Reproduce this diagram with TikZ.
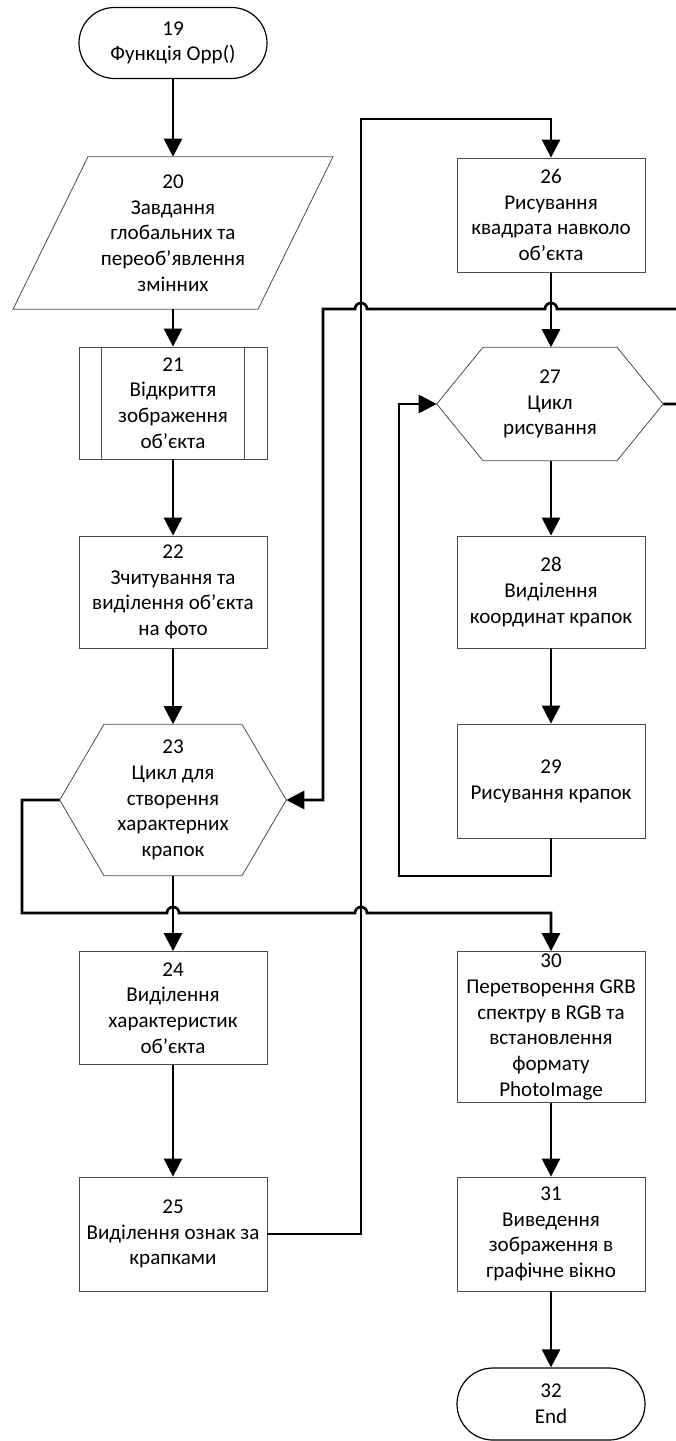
\documentclass[tikz,border=0pt]{standalone}
\usepackage{fontspec}
\setmainfont{Carlito}
\usetikzlibrary{arrows.meta,shapes.misc,calc}
\begin{document}
\begin{tikzpicture}[x=0.75pt,y=-0.75pt,
  every node/.style={font=\fontsize{15.8}{19.3}\selectfont, align=center, inner sep=0pt},
  box/.style={draw=black!70, line width=0.6pt, rectangle, minimum width=141pt, minimum height=84pt},
  term/.style={draw=black, line width=0.9pt, rounded rectangle, minimum width=141pt, minimum height=53.25pt},
  hexframe/.style={minimum width=169.5pt, minimum height=113.25pt},
  shapeline/.style={draw=black!70, line width=0.6pt},
  conn/.style={line width=2pt, -{Triangle[length=13.5pt,width=13.5pt]}},
]
\useasboundingbox (0,0) rectangle (675,1441);

% left column
\node[term] (n19) at (173,43) {19\\Функція Opp()};

\node[minimum height=114pt, minimum width=150pt] (n20) at (173,233)
  {20\\Завдання\\глобальних та\\переоб’явлення\\змінних};
\draw[shapeline] ($(n20.north)+(-85,0)$) -- ($(n20.north)+(160,0)$)
  -- ($(n20.south)+(85,0)$) -- ($(n20.south)+(-160,0)$) -- cycle;

\node[box] (n21) at (173,403) {21\\Відкриття\\зображення\\об’єкта};
\draw[shapeline] ($(n21.north west)+(23,0)$) -- ($(n21.south west)+(23,0)$)
  ($(n21.north east)+(-23,0)$) -- ($(n21.south east)+(-23,0)$);

\node[box] (n22) at (173,592) {22\\Зчитування та\\виділення об’єкта\\на фото};

\node[hexframe] (n23) at (173,800) {23\\Цикл для\\створення\\характерних\\крапок};
\draw[shapeline] (n23.west) -- ($(n23.north)+(-69,0)$) -- ($(n23.north)+(69,0)$)
  -- (n23.east) -- ($(n23.south)+(69,0)$) -- ($(n23.south)+(-69,0)$) -- cycle;

\node[box, minimum height=84.75pt] (n24) at (173,1008) {24\\Виділення\\характеристик\\об’єкта};
\node[box, minimum height=85.5pt] (n25) at (173,1234) {25\\Виділення ознак за\\крапками};

% right column
\node[box, minimum height=85.5pt] (n26) at (551,215) {26\\Рисування\\квадрата навколо\\об’єкта};

\node[hexframe, minimum height=84.75pt] (n27) at (550,404) {27\\Цикл\\рисування};
\draw[shapeline] (n27.west) -- ($(n27.north)+(-67,0)$) -- ($(n27.north)+(67,0)$)
  -- (n27.east) -- ($(n27.south)+(67,0)$) -- ($(n27.south)+(-67,0)$) -- cycle;

\node[box] (n28) at (551,592) {28\\Виділення\\координат крапок};
\node[box, minimum height=85.5pt] (n29) at (551,781) {29\\Рисування крапок};
\node[box, minimum height=113.25pt] (n30) at (551,1027)
  {30\\Перетворення GRB\\спектру в RGB та\\встановлення\\формату\\PhotoImage};
\node[box, minimum height=85.5pt] (n31) at (551,1234) {31\\Виведення\\зображення в\\графічне вікно};
\node[term, minimum height=54pt] (n32) at (551,1404) {32\\End};

% bend points
\coordinate (up1) at (361,119);
\coordinate (lp) at (399,876);
\coordinate (ra) at (678,404);
\coordinate (rb) at (678,309);
\coordinate (hA) at (551,309);
\coordinate (hB) at (361,309);
\coordinate (la) at (323,309);
\coordinate (lb) at (22,913);
\coordinate (hC) at (173,913);
\coordinate (hD) at (361,913);
\coordinate (tb) at (551,913);

% straight flow
\draw[conn] (n19.south) -- (n20.north);
\draw[conn] (n20.south) -- (n21.north);
\draw[conn] (n21.south) -- (n22.north);
\draw[conn] (n22.south) -- (n23.north);
\draw[conn] (n23.south) -- (n24.north);
\draw[conn] (n24.south) -- (n25.north);
\draw[conn] (n26.south) -- ($(n27.north)+(1,0)$);
\draw[conn] (n27.south -| n28.north) -- (n28.north);
\draw[conn] (n28.south) -- (n29.north);
\draw[conn] (n30.south) -- (n31.north);
\draw[conn] (n31.south) -- (n32.north);

% 25 -> 26
\draw[conn] (n25.east) -| (up1) -| (n26.north);

% inner loop of 27
\draw[conn] (n29.south) |- (lp) |- (n27.west);

% exit of 27 back to loop 23
\draw[conn] (n27.east) -- (ra) -- (rb)
  -- ($(hA)+(6,0)$) arc[start angle=0,end angle=180,radius=4.5pt]
  -- ($(hB)+(6,0)$) arc[start angle=0,end angle=180,radius=4.5pt]
  -- (la) |- (n23.east);

% exit of 23 to 30
\draw[conn] (n23.west) -| (lb)
  -- ($(hC)+(-6,0)$) arc[start angle=180,end angle=0,radius=4.5pt]
  -- ($(hD)+(-6,0)$) arc[start angle=180,end angle=0,radius=4.5pt]
  -- (tb) -- (n30.north);
\end{tikzpicture}
\end{document}
